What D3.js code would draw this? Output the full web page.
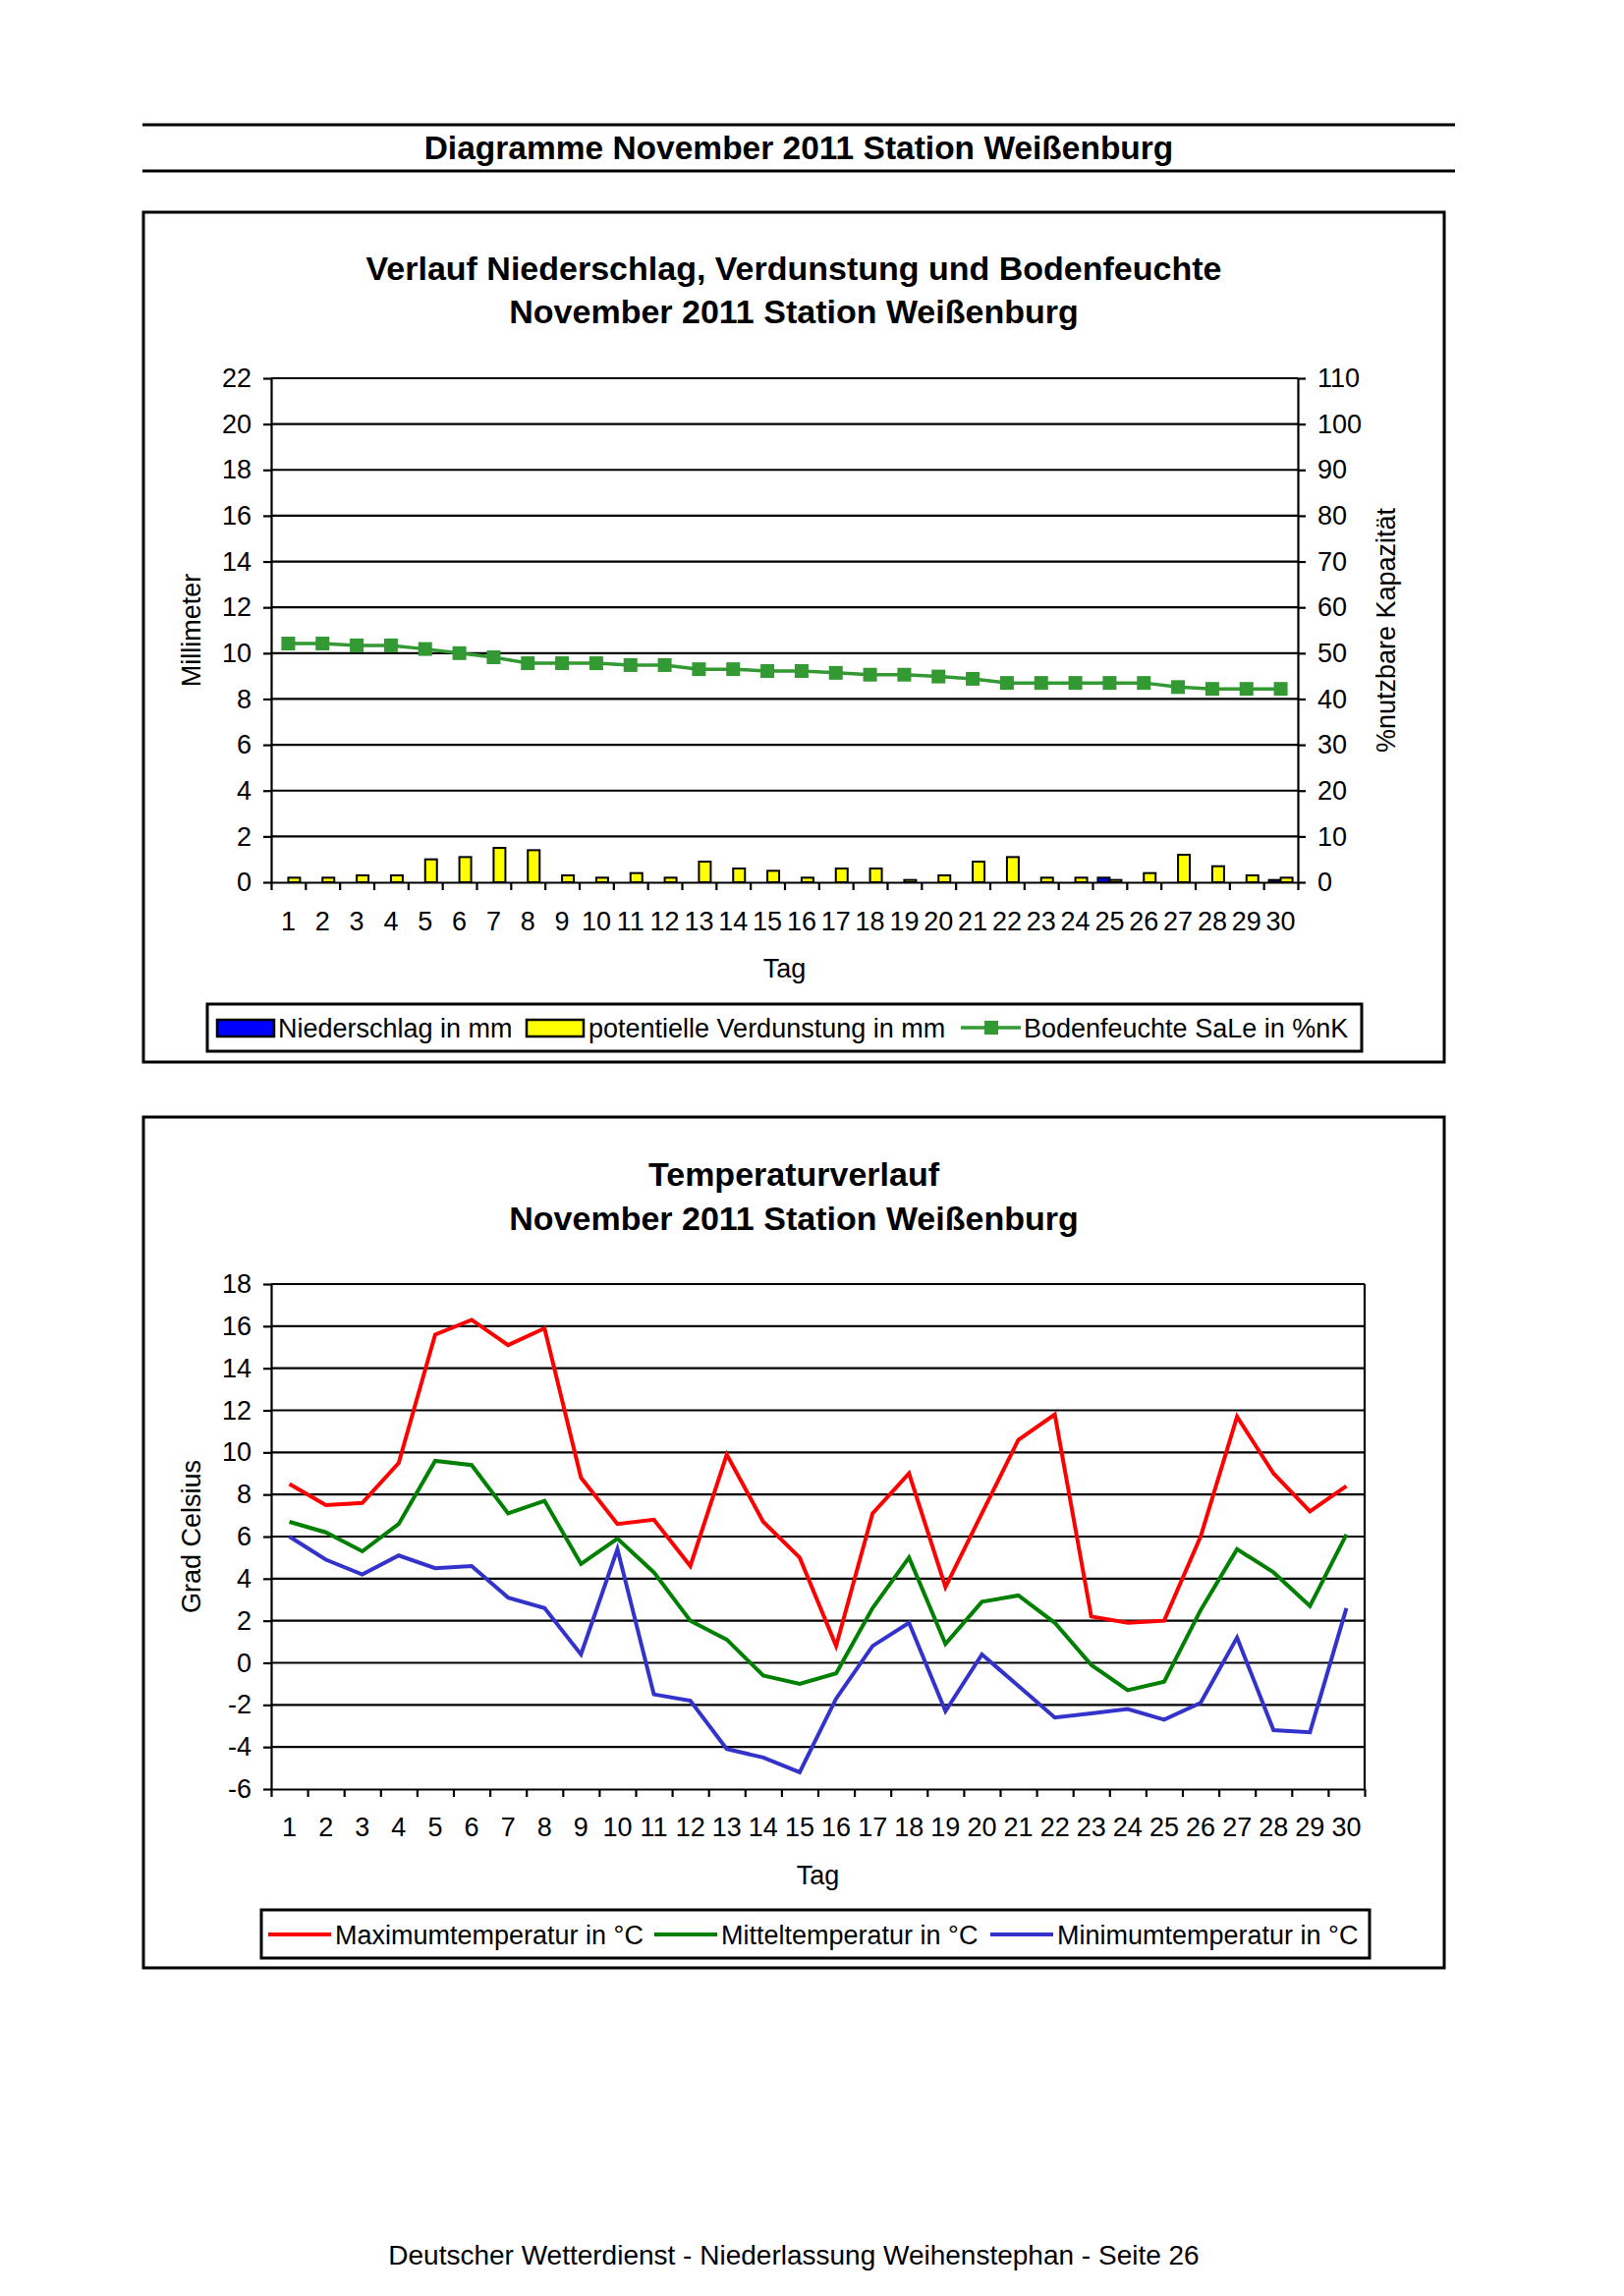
<!DOCTYPE html>
<html><head><meta charset="utf-8">
<script src="https://cdn.jsdelivr.net/npm/d3@7"></script>
<style>
html,body{margin:0;padding:0;background:#fff;}
svg{display:block;font-family:Arial,"Liberation Sans",Helvetica,sans-serif;}
</style></head>
<body>
<svg id="page" width="1653" height="2337"></svg>
<script>
// ---------- data ----------
const days = d3.range(1, 31);
const dayLabels = days.map(String);
const precipitation = [0,0,0,0,0,0,0,0,0,0,0,0,0,0,0,0,0,0,0,0,0,0,0,0,0.2,0,0,0,0,0.1];
const evaporation = [0.2,0.2,0.3,0.3,1.0,1.1,1.5,1.4,0.3,0.2,0.4,0.2,0.9,0.6,0.5,0.2,0.6,0.6,0.1,0.3,0.9,1.1,0.2,0.2,0.1,0.4,1.2,0.7,0.3,0.2];
const soilMoisture = [52.1,52.1,51.7,51.7,50.9,50.0,49.1,47.8,47.8,47.8,47.4,47.4,46.5,46.5,46.1,46.1,45.7,45.3,45.3,44.9,44.4,43.5,43.5,43.5,43.5,43.5,42.6,42.2,42.2,42.2];
const tMax = [8.5,7.5,7.6,9.5,15.6,16.3,15.1,15.9,8.8,6.6,6.8,4.6,9.9,6.7,5.0,0.8,7.1,9.0,3.6,7.1,10.6,11.8,2.2,1.9,2.0,6.0,11.7,9.0,7.2,8.4];
const tMean = [6.7,6.2,5.3,6.6,9.6,9.4,7.1,7.7,4.7,5.9,4.3,2.0,1.1,-0.6,-1.0,-0.5,2.6,5.0,0.9,2.9,3.2,1.9,-0.1,-1.3,-0.9,2.5,5.4,4.3,2.7,6.1];
const tMin = [6.0,4.9,4.2,5.1,4.5,4.6,3.1,2.6,0.4,5.4,-1.5,-1.8,-4.1,-4.5,-5.2,-1.7,0.8,1.9,-2.3,0.4,-1.1,-2.6,-2.4,-2.2,-2.7,-1.9,1.2,-3.2,-3.3,2.6];
const mmTicks = d3.range(0, 23, 2);
const pctTicks = d3.range(0, 111, 10);
const tempTicks = d3.range(-6, 19, 2);

const pageTitle = "Diagramme November 2011 Station Weißenburg";
const chart1Title = ["Verlauf Niederschlag, Verdunstung und Bodenfeuchte", "November 2011 Station Weißenburg"];
const chart2Title = ["Temperaturverlauf", "November 2011 Station Weißenburg"];
const footer = "Deutscher Wetterdienst - Niederlassung Weihenstephan - Seite 26";

// ---------- page ----------
const svg = d3.select("#page");
svg.append("rect").attr("width",1653).attr("height",2337).attr("fill","#fff");

svg.append("line").attr("x1",145).attr("x2",1481).attr("y1",127).attr("y2",127).attr("stroke","#000").attr("stroke-width",3);
svg.append("line").attr("x1",145).attr("x2",1481).attr("y1",174).attr("y2",174).attr("stroke","#000").attr("stroke-width",3);
svg.append("text").attr("x",813).attr("y",162).attr("text-anchor","middle").attr("font-size",33.5).attr("font-weight","bold").text(pageTitle);
svg.append("text").attr("x",808).attr("y",2305).attr("text-anchor","middle").attr("font-size",28).text(footer);

const FS = 27;
const fmt = d => String(d); // plain hyphen minus, as in the original

function frame(y0, y1){
  svg.append("rect").attr("x",146).attr("y",y0).attr("width",1324).attr("height",y1-y0)
    .attr("fill","none").attr("stroke","#000").attr("stroke-width",3);
}
function titles(lines, ys){
  lines.forEach((t,i)=>svg.append("text").attr("x",808).attr("y",ys[i]).attr("text-anchor","middle")
    .attr("font-size",34).attr("font-weight","bold").text(t));
}
function styleAxis(g){
  g.selectAll("path").attr("stroke","#000").attr("stroke-width",2.2);
  g.selectAll("line").attr("stroke","#000").attr("stroke-width",2.2);
  g.selectAll("text").attr("font-size",FS).attr("fill","#000").attr("font-family","Arial,'Liberation Sans',sans-serif");
}

// ---------- chart 1 ----------
frame(216, 1081);
titles(chart1Title, [285, 329]);
{
  const L=276, R=1321, T=385, B=898;
  const x = d3.scaleBand().domain(days).range([L,R]).padding(0);
  const xEdge = d3.scaleLinear().domain([0,30]).range([L,R]);
  const yL = d3.scaleLinear().domain([0,22]).range([B,T]);
  const yR = d3.scaleLinear().domain([0,110]).range([B,T]);
  const bw = x.bandwidth();
  const sub = d3.scaleBand().domain(["p","e"]).range([bw/2-12, bw/2+12]).padding(0);
  const g = svg.append("g");

  g.selectAll("line.grid").data(mmTicks.filter(d=>d>0)).join("line")
    .attr("x1",L).attr("x2",R).attr("y1",d=>yL(d)).attr("y2",d=>yL(d))
    .attr("stroke","#000").attr("stroke-width",2.2);

  g.selectAll("rect.p").data(days).join("rect")
    .attr("x",d=>x(d)+sub("p")).attr("width",sub.bandwidth())
    .attr("y",(d,i)=>yL(precipitation[i])).attr("height",(d,i)=>B-yL(precipitation[i]))
    .attr("fill","#0000ff").attr("stroke","#000").attr("stroke-width",2)
    .attr("display",(d,i)=>precipitation[i]>0?null:"none");
  g.selectAll("rect.e").data(days).join("rect")
    .attr("x",d=>x(d)+sub("e")).attr("width",sub.bandwidth())
    .attr("y",(d,i)=>yL(evaporation[i])).attr("height",(d,i)=>B-yL(evaporation[i]))
    .attr("fill","#ffff00").attr("stroke","#000").attr("stroke-width",2);

  const ax = g.append("g").attr("transform",`translate(${L},0)`)
    .call(d3.axisLeft(yL).tickValues(mmTicks).tickFormat(fmt).tickSizeInner(8).tickSizeOuter(0).tickPadding(12));
  styleAxis(ax);
  const axr = g.append("g").attr("transform",`translate(${R},0)`)
    .call(d3.axisRight(yR).tickValues(pctTicks).tickFormat(fmt).tickSizeInner(8).tickSizeOuter(0).tickPadding(12));
  styleAxis(axr);
  const axb = g.append("g").attr("transform",`translate(0,${B})`)
    .call(d3.axisBottom(xEdge).tickValues(d3.range(0,31)).tickFormat("").tickSizeInner(8).tickSizeOuter(0));
  styleAxis(axb);
  const axl = g.append("g").attr("transform",`translate(0,${B})`)
    .call(d3.axisBottom(x).tickFormat((d,i)=>dayLabels[i]).tickSize(0).tickPadding(30));
  styleAxis(axl);
  axl.select("path").remove();

  const line = d3.line().x((d,i)=>x(days[i])+bw/2).y(d=>yR(d));
  g.append("path").datum(soilMoisture).attr("d",line).attr("fill","none").attr("stroke","#339933").attr("stroke-width",3.5);
  g.selectAll("rect.m").data(soilMoisture).join("rect")
    .attr("x",(d,i)=>x(days[i])+bw/2-7).attr("y",d=>yR(d)-7).attr("width",14).attr("height",14).attr("fill","#339933");

  g.append("text").attr("transform",`translate(204,${(T+B)/2}) rotate(-90)`).attr("text-anchor","middle")
    .attr("font-size",FS).text("Millimeter");
  g.append("text").attr("transform",`translate(1420,${(T+B)/2}) rotate(-90)`).attr("text-anchor","middle")
    .attr("font-size",FS).text("%nutzbare Kapazität");
  g.append("text").attr("x",(L+R)/2).attr("y",995).attr("text-anchor","middle").attr("font-size",FS).text("Tag");

  const lg = g.append("g");
  lg.append("rect").attr("x",211).attr("y",1022).attr("width",1175).attr("height",48).attr("fill","#fff").attr("stroke","#000").attr("stroke-width",3);
  const ly = 1046;
  lg.append("rect").attr("x",221).attr("y",ly-8).attr("width",58).attr("height",17).attr("fill","#0000ff").attr("stroke","#000").attr("stroke-width",2.5);
  lg.append("text").attr("x",283).attr("y",ly+10).attr("font-size",FS).text("Niederschlag in mm");
  lg.append("rect").attr("x",536).attr("y",ly-8).attr("width",58).attr("height",17).attr("fill","#ffff00").attr("stroke","#000").attr("stroke-width",2.5);
  lg.append("text").attr("x",599).attr("y",ly+10).attr("font-size",FS).text("potentielle Verdunstung in mm");
  lg.append("line").attr("x1",978).attr("x2",1039).attr("y1",ly).attr("y2",ly).attr("stroke","#339933").attr("stroke-width",3.5);
  lg.append("rect").attr("x",1002).attr("y",ly-7).attr("width",14).attr("height",14).attr("fill","#339933");
  lg.append("text").attr("x",1042).attr("y",ly+10).attr("font-size",FS).text("Bodenfeuchte SaLe in %nK");
}

// ---------- chart 2 ----------
frame(1137, 2003);
titles(chart2Title, [1207, 1252]);
{
  const L=276, R=1389, T=1307, B=1821;
  const x = d3.scaleBand().domain(days).range([L,R]).padding(0);
  const xEdge = d3.scaleLinear().domain([0,30]).range([L,R]);
  const y = d3.scaleLinear().domain([-6,18]).range([B,T]);
  const bw = x.bandwidth();
  const g = svg.append("g");

  g.selectAll("line.grid").data(tempTicks.filter(d=>d>-6)).join("line")
    .attr("x1",L).attr("x2",R).attr("y1",d=>y(d)).attr("y2",d=>y(d))
    .attr("stroke","#000").attr("stroke-width",2.2);
  g.append("line").attr("x1",R).attr("x2",R).attr("y1",T).attr("y2",B).attr("stroke","#000").attr("stroke-width",2.2);

  const ax = g.append("g").attr("transform",`translate(${L},0)`)
    .call(d3.axisLeft(y).tickValues(tempTicks).tickFormat(fmt).tickSizeInner(8).tickSizeOuter(0).tickPadding(12));
  styleAxis(ax);
  const axb = g.append("g").attr("transform",`translate(0,${B})`)
    .call(d3.axisBottom(xEdge).tickValues(d3.range(0,31)).tickFormat("").tickSizeInner(8).tickSizeOuter(0));
  styleAxis(axb);
  const axl = g.append("g").attr("transform",`translate(0,${B})`)
    .call(d3.axisBottom(x).tickFormat((d,i)=>dayLabels[i]).tickSize(0).tickPadding(29));
  styleAxis(axl);
  axl.select("path").remove();

  const line = d3.line().x((d,i)=>x(days[i])+bw/2).y(d=>y(d));
  const series = [[tMax,"#ff0000"],[tMean,"#008000"],[tMin,"#3333cc"]];
  series.forEach(([vals,c])=>{
    g.append("path").datum(vals).attr("d",line).attr("fill","none").attr("stroke",c).attr("stroke-width",4).attr("stroke-linejoin","miter");
  });

  g.append("text").attr("transform",`translate(204,${(T+B)/2}) rotate(-90)`).attr("text-anchor","middle")
    .attr("font-size",FS).text("Grad Celsius");
  g.append("text").attr("x",(L+R)/2).attr("y",1918).attr("text-anchor","middle").attr("font-size",FS).text("Tag");

  const lg = g.append("g");
  lg.append("rect").attr("x",266).attr("y",1944).attr("width",1128).attr("height",49).attr("fill","#fff").attr("stroke","#000").attr("stroke-width",3);
  const ly = 1969;
  const items = [["Maximumtemperatur in °C","#ff0000",273],["Mitteltemperatur in °C","#008000",666],["Minimumtemperatur in °C","#3333cc",1008]];
  items.forEach(([t,c,x0])=>{
    lg.append("line").attr("x1",x0).attr("x2",x0+64).attr("y1",ly).attr("y2",ly).attr("stroke",c).attr("stroke-width",4);
    lg.append("text").attr("x",x0+68).attr("y",ly+10).attr("font-size",FS).text(t);
  });
}
</script>
</body></html>
